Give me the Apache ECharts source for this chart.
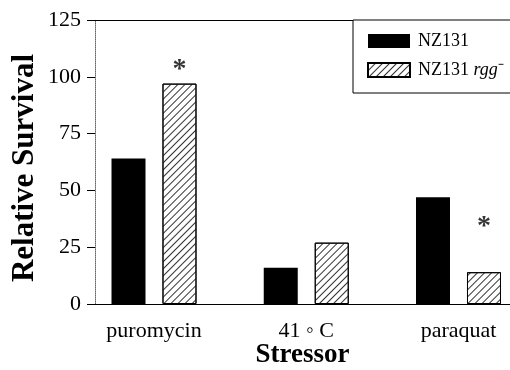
<!DOCTYPE html>
<html>
<head>
<meta charset="utf-8">
<script src="https://cdn.jsdelivr.net/npm/echarts@6/dist/echarts.min.js"></script>
<style>html,body{margin:0;padding:0;background:#fff}#c{width:510px;height:370px}</style>
</head>
<body>
<div id="c"></div>
<script>
const categories = ['puromycin', '41 \u25E6 C', 'paraquat'];
const seriesNames = ['NZ131', 'NZ131 rgg\u207B'];
const wildType = [64, 16, 47];
const mutant = [97, 27, 14];
const starLevels = [103, null, 34];
const yTicks = [0, 25, 50, 75, 100, 125];

const FONT = 'Liberation Serif';
const pos = categories.map((c, i) => i + 1);
const hatchShift = 0.1675; // second bar of each pair, in axis units

const chart = echarts.init(document.getElementById('c'), null, {renderer: 'canvas'});
chart.setOption({
  animation: false,
  backgroundColor: '#fff',
  grid: {left: 95, right: 0, top: 20, bottom: 66, containLabel: false, outerBoundsMode: 'none'},
  legend: {
    left: 353, top: 20,
    orient: 'vertical',
    backgroundColor: '#fff',
    borderColor: '#000', borderWidth: 1,
    padding: [12, 120, 14, 14],
    itemWidth: 42, itemHeight: 14, itemGap: 11,
    icon: 'rect',
    textStyle: {
      fontFamily: FONT, fontSize: 18, color: '#000', padding: [0, 0, 0, 3],
      rich: {i: {fontFamily: FONT, fontSize: 18, fontStyle: 'italic', color: '#000'}}
    },
    formatter: n => n === seriesNames[1] ? 'NZ131 {i|rgg}\u207B' : n,
    data: seriesNames
  },
  xAxis: [{
    type: 'value', min: 0.6125, max: 3.3383,
    axisLine: {show: true, lineStyle: {color: '#000', width: 1}},
    axisTick: {show: false},
    splitLine: {show: false},
    axisLabel: {
      customValues: pos,
      formatter: v => categories[Math.round(v) - 1] || '',
      fontFamily: FONT, fontSize: 22, color: '#000', margin: 16
    },
    name: 'Stressor', nameLocation: 'middle', nameGap: 38, nameMoveOverlap: false,
    nameTextStyle: {fontFamily: FONT, fontSize: 27, fontWeight: 'bold', color: '#000'}
  }, {
    type: 'value', position: 'top', min: 0.6125, max: 3.3383,
    axisLine: {show: true, lineStyle: {color: '#000', width: 1}},
    axisTick: {show: false}, axisLabel: {show: false}, splitLine: {show: false}
  }],
  yAxis: {
    type: 'value', min: 0, max: 125, interval: 25,
    axisLine: {show: true, lineStyle: {color: '#666', width: 1, type: 'dotted'}},
    axisTick: {show: true, inside: false, length: 8, lineStyle: {color: '#000'}},
    splitLine: {show: false},
    axisLabel: {fontFamily: FONT, fontSize: 22, color: '#000', margin: 14,
      formatter: v => yTicks.includes(v) ? String(v) : ''},
    name: 'Relative Survival', nameLocation: 'middle', nameRotate: 90, nameGap: 55, nameMoveOverlap: false,
    nameTextStyle: {fontFamily: FONT, fontSize: 31, fontWeight: 'bold', color: '#000', padding: [0, 12, 0, 0]}
  },
  series: [{
    name: seriesNames[0], type: 'bar', barWidth: 34, barGap: '50%',
    itemStyle: {color: '#000'},
    data: wildType.map((v, i) => [pos[i], v])
  }, {
    name: seriesNames[1], type: 'bar', barWidth: 34, barGap: '50%',
    itemStyle: {
      color: '#fff', borderColor: '#000', borderWidth: 1,
      decal: {symbol: 'rect', dashArrayX: [1, 0], dashArrayY: [1, 3.5], rotation: -Math.PI / 4, color: '#333', symbolSize: 1}
    },
    data: mutant.map((v, i) => [pos[i], v])
  }, {
    name: 'significance', type: 'scatter', symbolSize: 0, silent: true,
    label: {show: true, position: 'inside', formatter: '*',
      fontFamily: FONT, fontSize: 28, fontWeight: 'bold', color: '#000'},
    data: starLevels.map((v, i) => v == null ? null : [pos[i] + hatchShift, v]).filter(d => d)
  }]
});
</script>
</body>
</html>
